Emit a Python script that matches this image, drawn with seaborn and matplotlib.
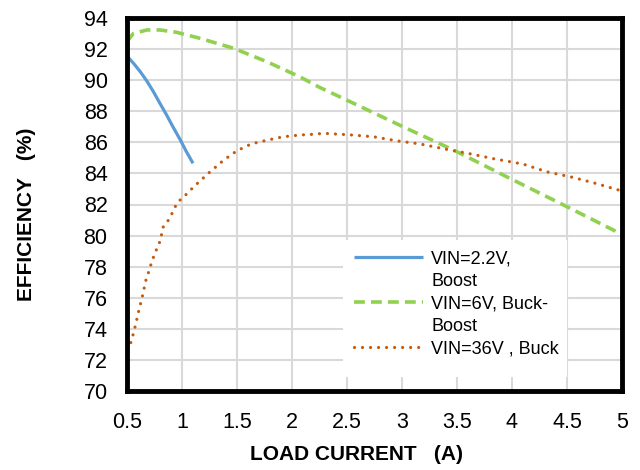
import numpy as np
import pandas as pd
import matplotlib
matplotlib.use("Agg")
import matplotlib.pyplot as plt
from matplotlib.lines import Line2D
from matplotlib.patches import Rectangle
import seaborn as sns

# Efficiency vs load current for three operating modes
boost_x = [0.50, 0.56, 0.62, 0.68, 0.74, 0.80, 0.86, 0.92, 0.985, 1.04, 1.10]
boost_y = [91.55, 91.08, 90.55, 89.95, 89.26, 88.50, 87.76, 86.97, 86.15, 85.40, 84.65]

buckboost_x = [0.50, 0.557, 0.68, 0.80, 0.95, 1.16, 1.47, 1.77, 2.07, 2.25,
               2.56, 3.01, 3.47, 3.95, 4.44, 4.92, 5.00]
buckboost_y = [92.48, 93.00, 93.23, 93.23, 93.08, 92.70, 92.05, 91.19, 90.22, 89.54,
               88.51, 87.00, 85.50, 83.79, 82.07, 80.36, 80.05]

buck_x = [0.506, 0.534, 0.555, 0.573, 0.590, 0.606, 0.624, 0.642, 0.657, 0.673,
          0.697, 0.718, 0.742, 0.770, 0.800, 0.830, 0.885, 0.950, 0.997, 1.057,
          1.100, 1.157, 1.255, 1.380, 1.500, 1.630, 1.780, 1.920, 2.070, 2.200,
          2.285, 2.510, 2.740, 2.950, 3.160, 3.390, 3.600, 3.830, 4.100, 4.320,
          4.550, 4.760, 4.970, 5.000]
buck_y = [72.64, 73.10, 73.62, 74.12, 74.63, 75.13, 75.64, 76.16, 76.65, 77.16,
          77.66, 78.15, 78.64, 79.14, 79.63, 80.57, 81.07, 82.03, 82.40, 82.76,
          83.10, 83.47, 84.10, 84.86, 85.46, 85.90, 86.15, 86.36, 86.47, 86.52,
          86.58, 86.49, 86.36, 86.10, 85.90, 85.57, 85.29, 84.95, 84.60, 84.10,
          83.75, 83.36, 82.93, 82.88]

series_labels = [["VIN=2.2V,", "Boost"], ["VIN=6V, Buck-", "Boost"], ["VIN=36V , Buck"]]
x_ticks = [0.5, 1, 1.5, 2, 2.5, 3, 3.5, 4, 4.5, 5]
x_tick_labels = ["0.5", "1", "1.5", "2", "2.5", "3", "3.5", "4", "4.5", "5"]
y_ticks = list(range(70, 95, 2))

colors = ["#5b9bd5", "#92d050", "#c55a11"]
styles = [dict(lw=2.3, linestyle="-", solid_capstyle="butt"),
          dict(lw=2.6, linestyle=(0, (3.0, 1.7)), dash_capstyle="butt"),
          dict(lw=2.3, linestyle=(0, (0.01, 2.5)), dash_capstyle="round")]

sns.set_theme(style="white")
plt.rcParams["font.family"] = ["Liberation Sans", "DejaVu Sans"]

fig = plt.figure(figsize=(6.4, 4.7), dpi=100)
ax = fig.add_axes([127 / 640, 1 - 391 / 470, (622 - 127) / 640, (391 - 18) / 470])

for xs, ys, c, st in zip([boost_x, buckboost_x, buck_x],
                         [boost_y, buckboost_y, buck_y], colors, styles):
    sns.lineplot(x=xs, y=ys, ax=ax, color=c, sort=False, legend=False, **st)

ax.set_xlim(0.5, 5)
ax.set_ylim(70, 94)
ax.set_xticks(x_ticks)
ax.set_xticklabels(x_tick_labels)
ax.set_yticks(y_ticks)
ax.grid(True, color="#d9d9d9", lw=1.5)
ax.set_axisbelow(True)
ax.tick_params(axis="both", length=0, labelsize=15.5, colors="black")
ax.tick_params(axis="y", pad=14)
ax.tick_params(axis="x", pad=15)
for s in ax.spines.values():
    s.set_visible(True)
    s.set_color("black")
    s.set_linewidth(3.5)

ax.set_xlabel("LOAD CURRENT   (A)", fontsize=15, fontweight="bold", color="black")
ax.set_ylabel("EFFICIENCY   (%)", fontsize=15, fontweight="bold", color="black")
ax.xaxis.set_label_coords((356 - 127) / 495, -(445 - 391) / 373)
ax.yaxis.set_label_coords(-(127 - 36) / 495, (391 - 214) / 373)

# white legend panel covering the grid
ax.add_patch(Rectangle(((343 - 127) / 495, (391 - 377) / 373), (567 - 343) / 495,
                       (377 - 240) / 373, transform=ax.transAxes,
                       facecolor="white", edgecolor="none", zorder=1))

# legend: the line sample sits beside the first text line of each entry
handles, labels = [], []
for c, st, lab in zip(colors, styles, series_labels):
    handles.append(Line2D([], [], color=c, **st))
    labels.append(lab[0])
    for extra in lab[1:]:
        handles.append(Line2D([], [], color="none"))
        labels.append(extra)
leg = ax.legend(handles, labels, loc="upper left",
                bbox_to_anchor=((354 - 127) / 495, (391 - 250) / 373),
                borderaxespad=0, frameon=False, fontsize=13, handlelength=3.83,
                handletextpad=0.45, labelspacing=0.31, borderpad=0)
for t in leg.get_texts():
    t.set_color("black")

fig.savefig("out.png", dpi=100)
